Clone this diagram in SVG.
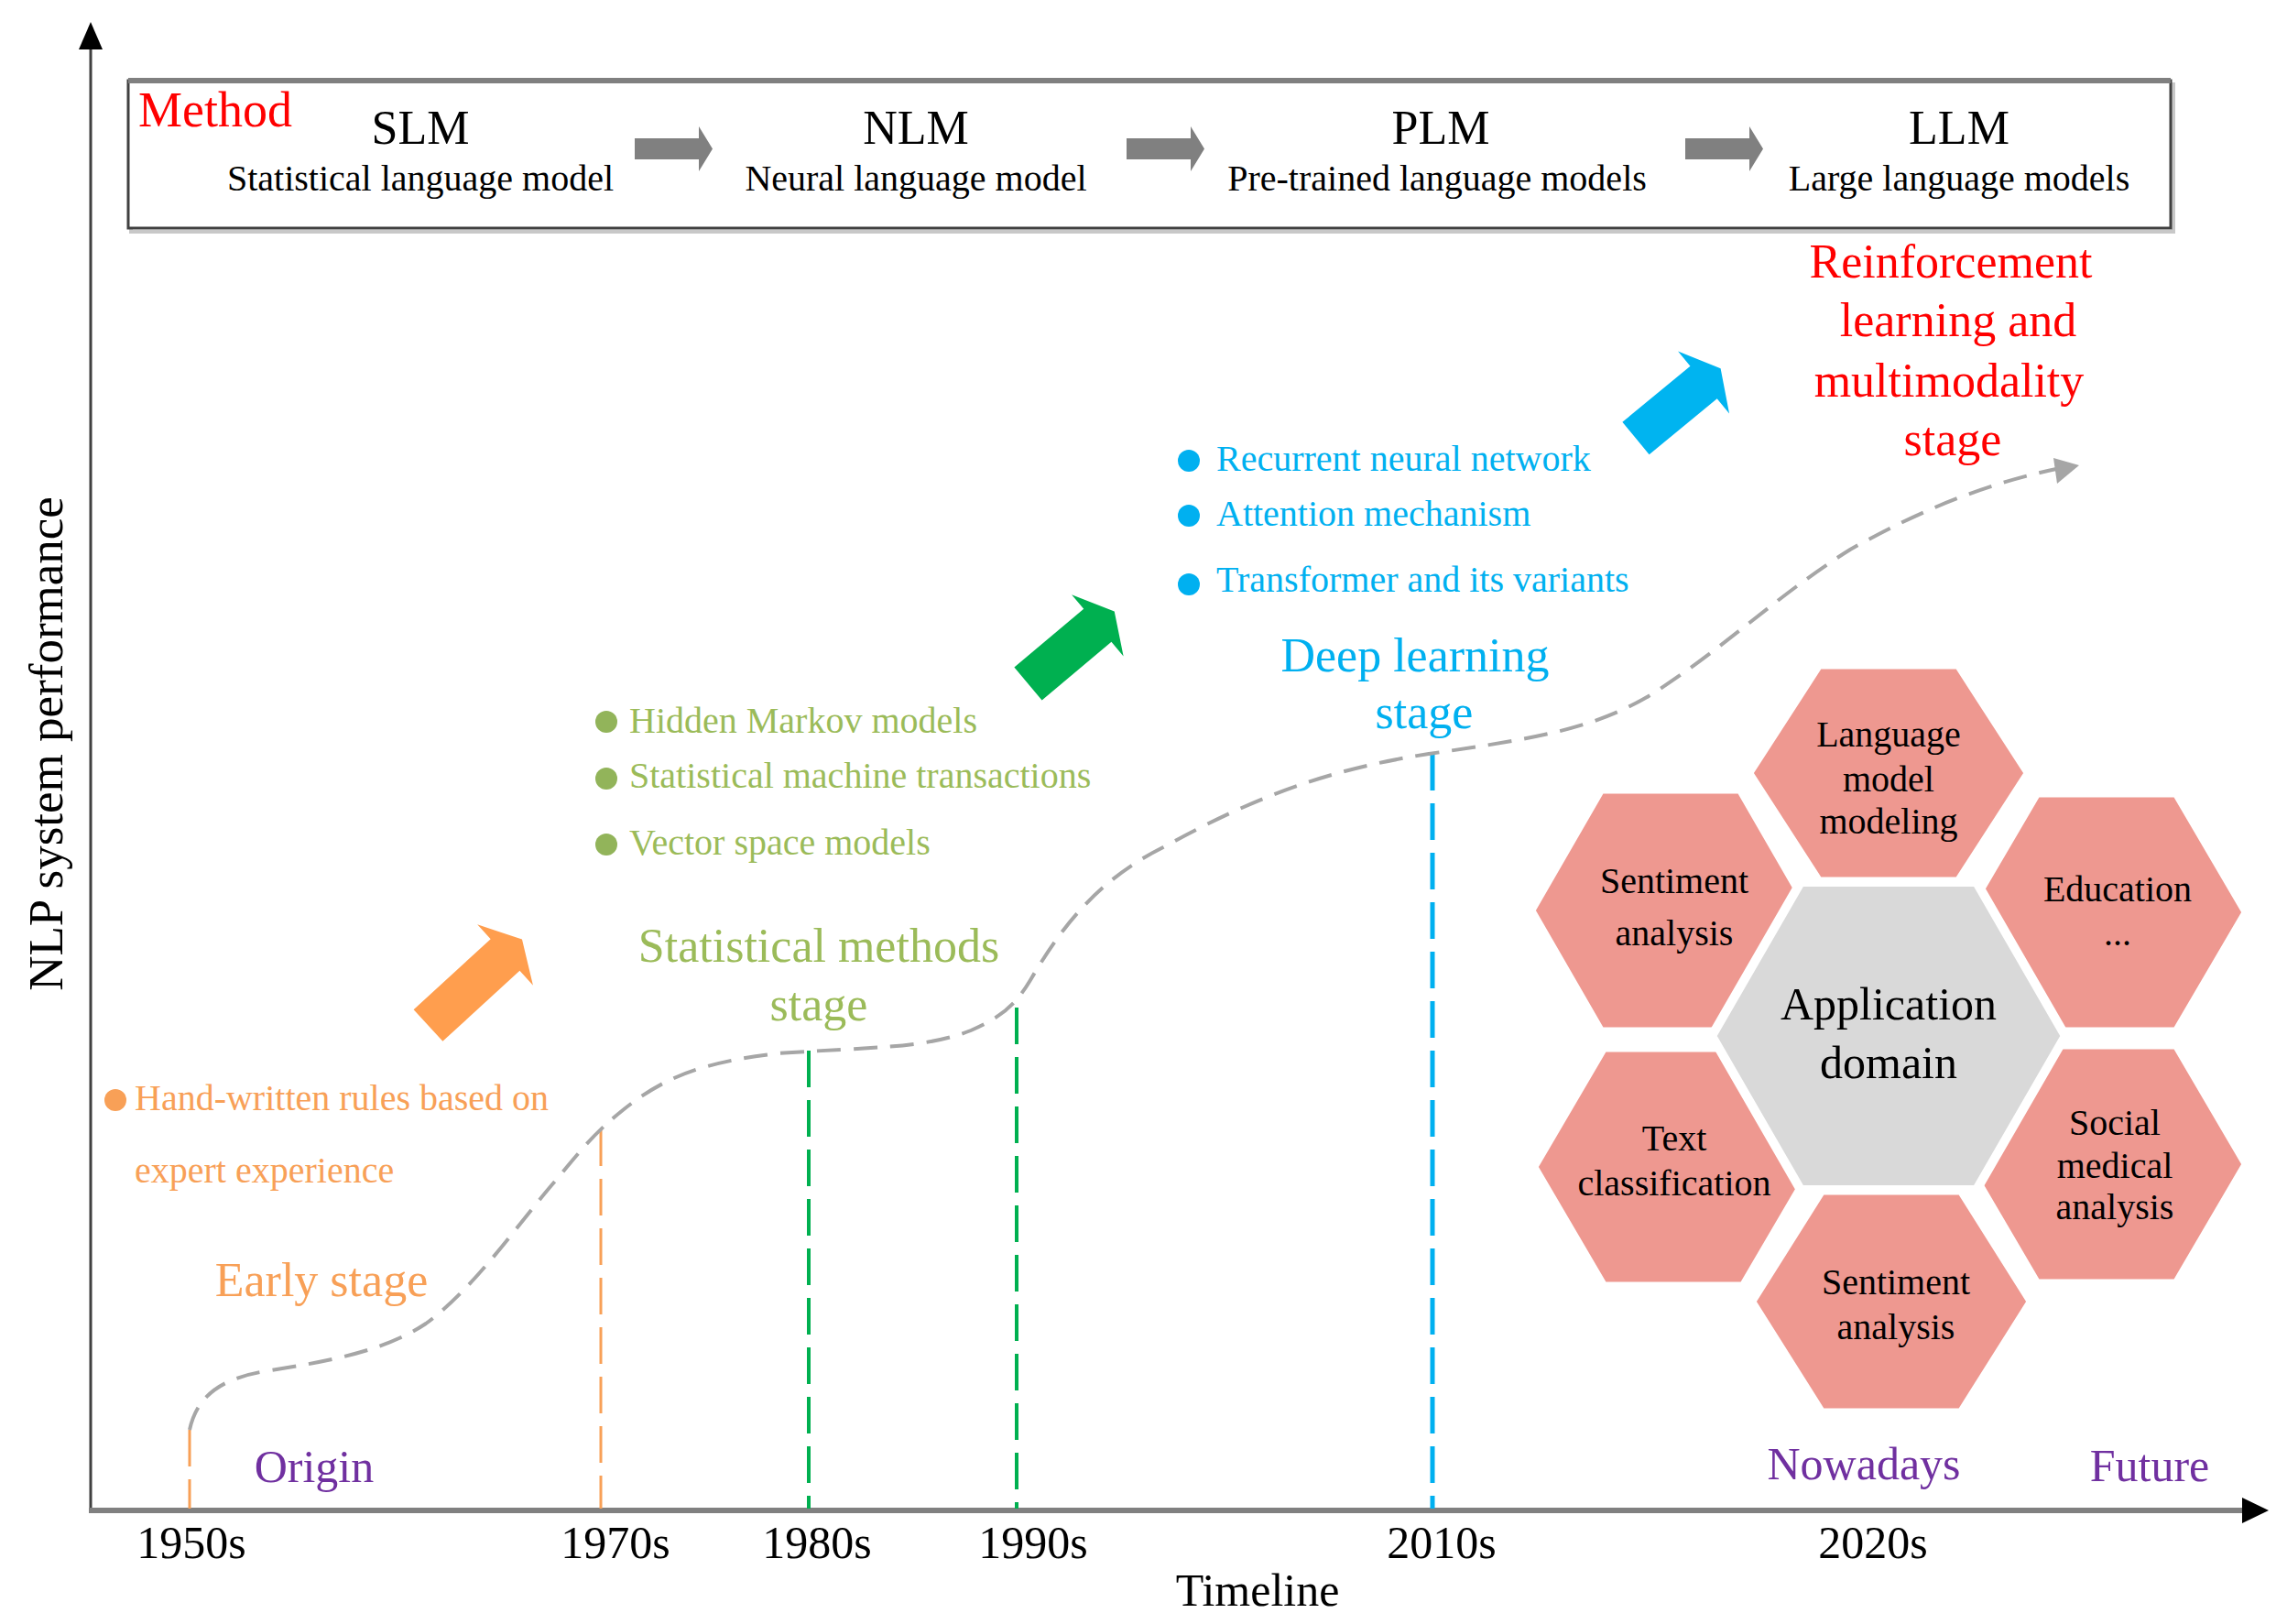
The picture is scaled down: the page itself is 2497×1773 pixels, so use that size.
<svg xmlns="http://www.w3.org/2000/svg" width="2497" height="1773" viewBox="0 0 2497 1773">
<defs>
<style>
text{font-family:"Liberation Serif","Times New Roman",serif;}
.mid{text-anchor:middle;}
.big{font-size:52px;}
.med{font-size:50px;}
.stg{font-size:52px;}
.sm{font-size:40px;}
.red{fill:#FF0000;}
.org{fill:#F8A057;}
.grn{fill:#9BBB59;}
.blu{fill:#00B0F0;}
.pur{fill:#7030A0;}
.blk{fill:#000;}
.hex{fill:#EE9890;stroke:#fff;stroke-width:5;}
.garr{fill:#808080;}
.vl{fill:none;stroke-dasharray:40 14;}
</style>
</defs>
<rect width="2497" height="1773" fill="#fff"/>

<!-- axes -->
<g id="axes">
<line x1="99" y1="50" x2="99" y2="1651" stroke="#404040" stroke-width="3"/>
<polygon points="99,24 86,54 112,54" fill="#000"/>
<line x1="97" y1="1649" x2="2452" y2="1649" stroke="#808080" stroke-width="6"/>
<polygon points="2477,1649 2448,1635 2448,1663" fill="#000"/>
<text class="blk" font-size="53" transform="translate(68,812) rotate(-90)" text-anchor="middle">NLP system performance</text>
<text class="med blk mid" x="1373" y="1753">Timeline</text>
<text class="med blk mid" x="209" y="1701">1950s</text>
<text class="med blk mid" x="672" y="1701">1970s</text>
<text class="med blk mid" x="892" y="1701">1980s</text>
<text class="med blk mid" x="1128" y="1701">1990s</text>
<text class="med blk mid" x="1574" y="1701">2010s</text>
<text class="med blk mid" x="2045" y="1701">2020s</text>
</g>

<!-- Method box -->
<g id="method-box">
<rect x="143" y="92" width="2230" height="161" fill="none" stroke="#C8C8C8" stroke-width="4"/>
<rect x="140" y="88" width="2230" height="161" fill="#fff" stroke="#404040" stroke-width="3"/>
<line x1="140" y1="88" x2="2370" y2="88" stroke="#808080" stroke-width="6"/>
<text class="red" font-size="54" x="151" y="138">Method</text>
</g>
<g id="slm"><text class="big blk mid" x="459" y="157">SLM</text><text class="sm blk mid" x="459" y="208">Statistical language model</text></g>
<g id="nlm"><text class="big blk mid" x="1000" y="157">NLM</text><text class="sm blk mid" x="1000" y="208">Neural language model</text></g>
<g id="plm"><text class="big blk mid" x="1573" y="157">PLM</text><text class="sm blk mid" x="1569" y="208">Pre-trained language models</text></g>
<g id="llm"><text class="big blk mid" x="2139" y="157">LLM</text><text class="sm blk mid" x="2139" y="208">Large language models</text></g>

<!-- connectors -->
<g id="connectors">
<polygon class="garr" points="693,151 763,151 763,138 778,162.5 763,187 763,174 693,174"/>
<polygon class="garr" points="1230,151 1300,151 1300,138 1315,162.5 1300,187 1300,174 1230,174"/>
<polygon class="garr" points="1840,151 1910,151 1910,138 1925,162.5 1910,187 1910,174 1840,174"/>

<line class="vl" x1="207" y1="1561" x2="207" y2="1647" stroke="#F8A057" stroke-width="3"/>
<line class="vl" x1="656" y1="1233" x2="656" y2="1647" stroke="#F8A057" stroke-width="3"/>
<line class="vl" x1="883" y1="1147" x2="883" y2="1647" stroke="#00B050" stroke-width="4"/>
<line class="vl" x1="1110" y1="1100" x2="1110" y2="1647" stroke="#00B050" stroke-width="4"/>
<line class="vl" x1="1564" y1="823" x2="1564" y2="1647" stroke="#00B0F0" stroke-width="5"/>

<path d="M207,1561 C215,1525 240,1505 290,1497 C360,1486 420,1475 465,1445 C520,1405 570,1330 610,1285 C640,1248 655,1232 680,1212 C720,1180 760,1160 850,1150 C950,1143 1010,1145 1060,1125 C1095,1110 1110,1095 1125,1070 C1160,1010 1200,960 1270,925 C1370,870 1450,840 1560,823 C1680,806 1740,795 1800,760 C1880,710 1940,650 2020,600 C2100,555 2170,528 2245,512" fill="none" stroke="#A6A6A6" stroke-width="4" stroke-dasharray="26 14"/>
<polygon points="2270,508 2242,500 2246,528" fill="#A6A6A6"/>

<polygon transform="translate(467.5,1119.5) rotate(-42.5)" points="0,-23.5 114,-23.5 114,-45 139,0 114,45 114,23.5 0,23.5" fill="#FF9E4E"/>
<polygon transform="translate(1122.5,746.5) rotate(-40)" points="0,-23.5 99,-23.5 99,-44 123,0 99,44 99,23.5 0,23.5" fill="#00B050"/>
<polygon transform="translate(1786,478.5) rotate(-39.5)" points="0,-23 96,-23 96,-44 120,0 96,44 96,23 0,23" fill="#00B4F0"/>
</g>

<!-- stage labels -->
<g id="early-stage">
<circle cx="126" cy="1201" r="12" fill="#F8A057"/>
<text class="sm org" x="147" y="1212">Hand-written rules based on</text>
<text class="sm org" x="147" y="1291">expert experience</text>
<text class="stg org mid" x="351" y="1415">Early stage</text>
</g>
<g id="statistical-stage">
<circle cx="662" cy="788" r="12" fill="#92B45A"/>
<text class="sm grn" x="687" y="800">Hidden Markov models</text>
<circle cx="662" cy="850" r="12" fill="#92B45A"/>
<text class="sm grn" x="687" y="860">Statistical machine transactions</text>
<circle cx="662" cy="922" r="12" fill="#92B45A"/>
<text class="sm grn" x="687" y="933">Vector space models</text>
<text class="stg grn mid" x="894" y="1050">Statistical methods</text>
<text class="stg grn mid" x="894" y="1114">stage</text>
</g>
<g id="deep-learning-stage">
<circle cx="1298" cy="503" r="12" fill="#00B0F0"/>
<text class="sm blu" x="1328" y="514">Recurrent neural network</text>
<circle cx="1298" cy="563" r="12" fill="#00B0F0"/>
<text class="sm blu" x="1328" y="574">Attention mechanism</text>
<circle cx="1298" cy="638" r="12" fill="#00B0F0"/>
<text class="sm blu" x="1328" y="646">Transformer and its variants</text>
<text class="big blu mid" x="1545" y="733">Deep learning</text>
<text class="big blu mid" x="1555" y="795">stage</text>
</g>
<g id="rl-stage">
<text class="stg red mid" x="2130" y="303">Reinforcement</text>
<text class="stg red mid" x="2138" y="367">learning and</text>
<text class="stg red mid" x="2128" y="433">multimodality</text>
<text class="stg red mid" x="2132" y="497">stage</text>
</g>
<g id="period-labels">
<text class="med pur mid" x="343" y="1618">Origin</text>
<text class="med pur mid" x="2035" y="1615">Nowadays</text>
<text class="med pur mid" x="2347" y="1617">Future</text>
</g>

<!-- application domain hexagons -->
<g id="hex-language-model">
<polygon class="hex" points="1912,844 1987,728 2137,728 2212,844 2137,960 1987,960"/>
<text class="sm blk mid" x="2062" y="815">Language</text>
<text class="sm blk mid" x="2062" y="864">model</text>
<text class="sm blk mid" x="2062" y="910">modeling</text>
</g>
<g id="hex-sentiment-1">
<polygon class="hex" points="1674,994 1749,864 1899,864 1974,994 1899,1124 1749,1124"/>
<text class="sm blk mid" x="1828" y="975">Sentiment</text>
<text class="sm blk mid" x="1828" y="1032">analysis</text>
</g>
<g id="hex-education">
<polygon class="hex" points="2150,996 2225,868 2375,868 2450,996 2375,1124 2225,1124"/>
<text class="sm blk mid" x="2312" y="984">Education</text>
<text class="sm blk mid" x="2312" y="1032">...</text>
</g>
<g id="hex-text-classification">
<polygon class="hex" points="1677,1274 1752,1146 1902,1146 1977,1274 1902,1402 1752,1402"/>
<text class="sm blk mid" x="1828" y="1256">Text</text>
<text class="sm blk mid" x="1828" y="1305">classification</text>
</g>
<g id="hex-social-medical">
<polygon class="hex" points="2150,1271 2225,1143 2375,1143 2450,1271 2375,1399 2225,1399"/>
<text class="sm blk mid" x="2309" y="1239">Social</text>
<text class="sm blk mid" x="2309" y="1286">medical</text>
<text class="sm blk mid" x="2309" y="1331">analysis</text>
</g>
<g id="hex-sentiment-2">
<polygon class="hex" points="1915,1421 1990,1302 2140,1302 2215,1421 2140,1540 1990,1540"/>
<text class="sm blk mid" x="2070" y="1413">Sentiment</text>
<text class="sm blk mid" x="2070" y="1462">analysis</text>
</g>
<g id="hex-application-domain">
<polygon points="1869,1131 1966,963 2158,963 2255,1131 2158,1299 1966,1299" fill="#D9D9D9" stroke="#fff" stroke-width="10"/>
<text class="med blk mid" x="2062" y="1113">Application</text>
<text class="med blk mid" x="2062" y="1177">domain</text>
</g>
</svg>
